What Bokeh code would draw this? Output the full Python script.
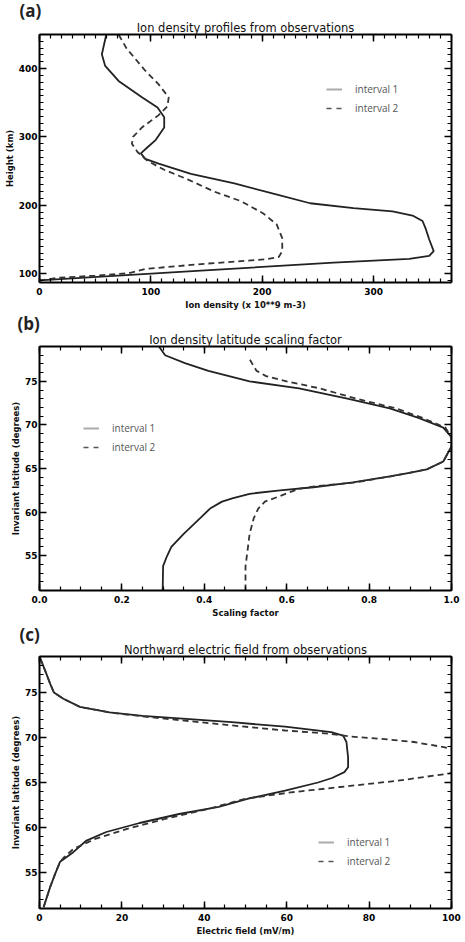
from bokeh.plotting import figure
from bokeh.models import (Range1d, LinearAxis, Title, Legend, LegendItem,
                          SingleIntervalTicker, PrintfTickFormatter, BasicTickFormatter)
from bokeh.layouts import column
from bokeh.embed import file_html
from bokeh.resources import INLINE

# ---------------- data ----------------
# (a) Ion density profiles: density (x 10**9 m-3) vs height (km)
a_dens_1 = [0, 145, 264, 332, 350, 354, 350, 347, 344, 335, 317, 282, 243, 210, 175, 136, 107, 95, 91, 97, 104, 112, 112, 106, 92, 71, 59, 56, 60]
a_height_1 = [90, 104.5, 116, 121.5, 126, 133, 150, 165, 177, 185, 191, 196, 203, 217, 232, 246, 261, 268, 276, 285, 295, 314, 329, 343, 358, 382, 404, 421, 450]
a_dens_2 = [0, 17, 50, 80, 95, 145, 204, 215, 218, 218, 213, 201, 181, 157, 133, 112, 97, 88, 83, 84, 92, 107, 115, 116, 107, 95, 78, 71]
a_height_2 = [90, 94, 97, 100.5, 106.8, 114, 121, 124.6, 133, 152, 172, 188, 206, 220, 238, 252, 265, 278, 290, 300, 314, 332, 345, 358, 377, 397, 430, 450]

# (b) Ion density latitude scaling factor vs invariant latitude
b_lat_1 = [51, 53.8, 54.9, 56.0, 57.5, 59.3, 60.4, 61.2, 61.6, 62.1, 62.5, 62.85, 63.4, 64.1, 64.5, 64.9, 65.8, 67.1, 67.5, 68.6, 69.7, 70.8, 71.9, 73, 74.2, 75, 76.2, 77.1, 78, 79]
b_fac_1 = [0.299, 0.30, 0.309, 0.32, 0.35, 0.39, 0.414, 0.443, 0.47, 0.51, 0.584, 0.665, 0.761, 0.85, 0.898, 0.94, 0.98, 0.995, 1.0, 1.0, 0.98, 0.92, 0.85, 0.75, 0.63, 0.51, 0.41, 0.353, 0.305, 0.29]
b_lat_2 = [51, 53.8, 55.6, 57.5, 59.3, 60.4, 61.2, 61.7, 62.3, 62.7, 62.95, 63.4, 64.1, 64.9, 65.8, 67.1, 67.5, 68.6, 69.7, 70.8, 71.9, 73, 74.2, 75, 75.6, 76.2, 76.8, 77.8]
b_fac_2 = [0.50, 0.50, 0.505, 0.51, 0.52, 0.531, 0.547, 0.576, 0.608, 0.632, 0.67, 0.765, 0.853, 0.94, 0.98, 0.995, 1.0, 1.0, 0.985, 0.93, 0.865, 0.77, 0.68, 0.60, 0.55, 0.527, 0.519, 0.507]

# (c) Northward electric field (mV/m) vs invariant latitude
c_lat_1 = [51.15, 53.4, 54.85, 56.2, 57.26, 58.55, 59.5, 60.5, 61.5, 62.3, 63.2, 64.1, 65.0, 65.5, 66.15, 66.7, 67.8, 69.5, 70.2, 70.6, 71.2, 71.7, 72.1, 72.4, 72.8, 73.4, 74.3, 75.0, 75.96, 77.4, 79]
c_ef_1 = [1.0, 2.6, 3.8, 5.0, 8.2, 11.4, 16.2, 24.3, 33.9, 43.5, 50.7, 59.6, 67.6, 71, 74, 74.9, 74.9, 74.5, 73.7, 70.8, 59.6, 46.7, 34.7, 25, 17, 9.8, 5.8, 3.5, 2.6, 1.4, 0]
c_lat_2 = [51.15, 53.4, 54.85, 56.2, 56.7, 57.6, 58.7, 59.85, 61.0, 62.1, 63.2, 63.9, 64.5, 65.2, 66.0, 66.5, 67.3, 68.0, 68.93, 69.5, 69.85, 70.1, 70.4, 70.78, 71.34, 71.9, 72.3, 72.75, 73.4, 74.3, 75.0, 75.96, 77.4, 79]
c_ef_2 = [1.0, 2.6, 3.8, 5.0, 6.0, 8.2, 13.3, 21.3, 30.9, 41.3, 50.0, 61.0, 73.0, 87.0, 99.4, 105, 108, 106, 98.1, 90.9, 82.9, 75.7, 70.8, 59.6, 46.7, 34.7, 26, 17.5, 9.8, 5.8, 3.5, 2.6, 1.4, 0]

legend_labels = ["interval 1", "interval 2"]

FONT = "DejaVu Sans"


def style_axis(ax, show_labels=True, label_standoff=2, title_standoff=1):
    ax.axis_line_width = 2
    ax.axis_line_color = "black"
    ax.major_tick_in = 7
    ax.major_tick_out = 0
    ax.minor_tick_in = 4
    ax.minor_tick_out = 0
    ax.major_tick_line_width = 1.5
    ax.minor_tick_line_width = 1.2
    ax.major_tick_line_color = "black"
    ax.minor_tick_line_color = "black"
    if show_labels:
        ax.major_label_text_font = FONT
        ax.major_label_text_font_size = "9px"
        ax.major_label_text_font_style = "bold"
        ax.major_label_text_color = "black"
        ax.major_label_standoff = label_standoff
        ax.axis_label_text_font = FONT
        ax.axis_label_text_font_size = "8.5px"
        ax.axis_label_text_font_style = "bold"
        ax.axis_label_text_color = "#111111"
        ax.axis_label_standoff = title_standoff
    else:
        ax.major_label_text_font_size = "0px"
        ax.major_label_text_color = None
        ax.major_label_standoff = 0
        ax.axis_label = None


def make_panel(letter, title, xlabel, ylabel, xr, yr, xint, xminor, yint, yminor, xfmt,
               height, btop, bbottom, bleft, bright, letter_dx, letter_standoff,
               x1, y1, x2, y2, legend_xy):
    p = figure(width=465, height=height, x_range=Range1d(*xr), y_range=Range1d(*yr),
               output_backend="svg", toolbar_location=None, title=None,
               min_border_top=btop, min_border_bottom=bbottom,
               min_border_left=bleft, min_border_right=bright)
    p.grid.visible = False
    p.outline_line_color = None

    p.xaxis.ticker = SingleIntervalTicker(interval=xint, num_minor_ticks=xminor)
    p.yaxis.ticker = SingleIntervalTicker(interval=yint, num_minor_ticks=yminor)
    p.xaxis.formatter = xfmt
    p.xaxis.axis_label = xlabel
    p.yaxis.axis_label = ylabel
    style_axis(p.xaxis[0], label_standoff=5, title_standoff=2)
    style_axis(p.yaxis[0])

    top = LinearAxis(ticker=SingleIntervalTicker(interval=xint, num_minor_ticks=xminor))
    style_axis(top, show_labels=False)
    p.add_layout(top, "above")
    right = LinearAxis(ticker=SingleIntervalTicker(interval=yint, num_minor_ticks=yminor))
    style_axis(right, show_labels=False)
    p.add_layout(right, "right")

    p.add_layout(Title(text=title, align="center", text_font=FONT, text_font_size="11.5px",
                       text_font_style="normal", text_color="#111111", standoff=0,
                       text_line_height=0.8), "above")
    p.add_layout(Title(text=letter, align="left", text_font="Open Sans", text_font_size="17px",
                       text_font_style="bold", text_color="#222222", offset=letter_dx,
                       standoff=letter_standoff, text_line_height=0.8), "above")

    p.line(x1, y1, line_color="#222222", line_width=1.8)
    p.line(x2, y2, line_color="#333333", line_width=1.8, line_dash="6 4")

    # legend glyphs (styled as in the original legend), hidden in the plot itself
    g1 = p.line(x1, y1, line_color="#aaaaaa", line_width=2, visible=False)
    g2 = p.line(x2, y2, line_color="#555555", line_width=1.5, line_dash="5 5", visible=False)
    leg = Legend(items=[LegendItem(label=legend_labels[0], renderers=[g1]),
                        LegendItem(label=legend_labels[1], renderers=[g2])],
                 location=legend_xy, border_line_color=None, background_fill_alpha=0,
                 padding=0, margin=0, spacing=5, label_height=14, glyph_height=14,
                 glyph_width=16, label_standoff=13, label_text_font="Open Sans",
                 label_text_font_size="10px", label_text_color="#555555")
    p.add_layout(leg)
    return p


pa = make_panel("(a)", "Ion density profiles from observations", "Ion density (x 10**9 m-3)",
                "Height (km)", (0, 370), (87, 450), 100, 10, 100, 10, BasicTickFormatter(),
                312, 32, 30, 37, 13, -20, -7,
                a_dens_1, a_height_1, a_dens_2, a_height_2, (287, 167))
pb = make_panel("(b)", "Ion density latitude scaling factor", "Scaling factor",
                "Invariant latitude (degrees)", (0, 1), (51, 79), 0.2, 4, 5, 5,
                PrintfTickFormatter(format="%.1f"),
                308, 34, 25, 39, 13, -22, -9,
                b_fac_1, b_lat_1, b_fac_2, b_lat_2, (44, 136))
pc = make_panel("(c)", "Northward electric field from observations", "Electric field (mV/m)",
                "Invariant latitude (degrees)", (0, 100), (51, 79), 20, 4, 5, 5, BasicTickFormatter(),
                322, 36, 34, 36, 14, -20, -11,
                c_ef_1, c_lat_1, c_ef_2, c_lat_2, (279, 40))

layout = column(pa, pb, pc, spacing=0)
open("out.html", "w").write(file_html(layout, INLINE))
